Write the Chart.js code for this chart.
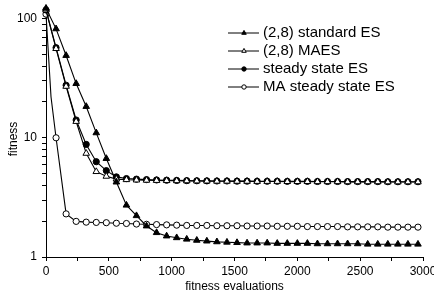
<!DOCTYPE html>
<html lang="en">
<head>
  <meta charset="UTF-8">
  <title>fitness vs fitness evaluations</title>
  <style>
    body {
      margin: 0;
      padding: 0;
      background: #fff;
      overflow: hidden;
    }
    .chart-box {
      width: 434px;
      height: 296px;
    }
  </style>
</head>
<body>
  <div class="chart-box">
    <canvas id="fitChart" width="434" height="296"></canvas>
  </div>

  <script src="https://cdn.jsdelivr.net/npm/chart.js"></script>
  <script>
    // x positions of the markers (fitness evaluations)
    const evals = [0, 80, 160, 240, 320, 400, 480, 560, 640, 720, 800, 880, 960, 1040, 1120, 1200, 1280, 1360, 1440,
      1520, 1600, 1680, 1760, 1840, 1920, 2000, 2080, 2160, 2240, 2320, 2400, 2480, 2560, 2640, 2720, 2800, 2880, 2960];

    const standardES = [122, 82, 49, 28.5, 18.3, 11.0, 6.7, 4.25, 2.72, 2.22, 1.82, 1.60, 1.50, 1.45, 1.41, 1.38, 1.36, 1.34, 1.33,
      1.32, 1.31, 1.31, 1.31, 1.30, 1.30, 1.30, 1.30, 1.29, 1.29, 1.29, 1.29, 1.29, 1.28, 1.28, 1.28, 1.28, 1.28, 1.28];
    const maES = [118, 56, 27, 13.7, 7.4, 5.2, 4.75, 4.5, 4.45, 4.42, 4.40, 4.38, 4.37, 4.36, 4.35, 4.34, 4.33, 4.32, 4.32,
      4.31, 4.31, 4.30, 4.30, 4.30, 4.29, 4.29, 4.29, 4.28, 4.28, 4.28, 4.27, 4.27, 4.27, 4.27, 4.26, 4.26, 4.26, 4.26];
    const steadyES = [118, 57, 27.6, 14.1, 8.8, 6.3, 5.3, 4.7, 4.55, 4.5, 4.46, 4.43, 4.41, 4.39, 4.37, 4.36, 4.35, 4.34, 4.34,
      4.33, 4.33, 4.32, 4.32, 4.32, 4.31, 4.31, 4.31, 4.30, 4.30, 4.30, 4.29, 4.29, 4.29, 4.29, 4.28, 4.28, 4.28, 4.28];
    const maSteadyES = [109, 10, 2.3, 1.99, 1.96, 1.95, 1.94, 1.92, 1.91, 1.89, 1.88, 1.87, 1.86, 1.85, 1.84, 1.84, 1.84, 1.83, 1.83,
      1.83, 1.82, 1.82, 1.82, 1.81, 1.81, 1.81, 1.80, 1.80, 1.80, 1.80, 1.79, 1.79, 1.79, 1.79, 1.78, 1.78, 1.78, 1.78];
    // the MA steady state curve bends between the first two markers: one unmarked point
    const maSteadyBendX = [40];
    const maSteadyBendY = [22];

    const seriesNames = ['(2,8) standard ES', '(2,8) MAES', 'steady state ES', 'MA steady state ES'];

    const xTicks = [0, 250, 500, 750, 1000, 1250, 1500, 1750, 2000, 2250, 2500, 2750, 3000];
    const xTickLabels = ['0', '', '500', '', '1000', '', '1500', '', '2000', '', '2500', '', '3000'];
    const yTicks = [1, 2, 3, 4, 5, 6, 7, 8, 9, 10, 20, 30, 40, 50, 60, 70, 80, 90, 100];
    const yTickLabels = ['1', '', '', '', '', '', '', '', '', '10', '', '', '', '', '', '', '', '', '100'];

    const FONT = '"Liberation Sans", Arial, sans-serif';

    function toPoints(xs, ys) {
      return xs.map((x, i) => ({ x: x, y: ys[i] }));
    }

    const maSteadyPoints = toPoints(evals, maSteadyES);
    maSteadyPoints.splice(1, 0, ...maSteadyBendX.map((x, i) => ({ x: x, y: maSteadyBendY[i], noMarker: true })));

    function series(label, data, style, fill, radius) {
      return {
        label: label,
        data: data,
        borderColor: '#000',
        borderWidth: 1.1,
        pointStyle: style,
        pointBackgroundColor: fill,
        pointBorderColor: '#000',
        pointBorderWidth: 1,
        pointRadius: ctx => (ctx.raw && ctx.raw.noMarker) ? 0 : radius,
        tension: 0,
        clip: false
      };
    }

    const datasets = [
      series(seriesNames[0], toPoints(evals, standardES), 'triangle', '#000', 3.8),
      series(seriesNames[1], toPoints(evals, maES), 'triangle', '#fff', 3.8),
      series(seriesNames[2], toPoints(evals, steadyES), 'circle', '#000', 3.1),
      series(seriesNames[3], maSteadyPoints, 'circle', '#fff', 3.1)
    ];

    // legend box and the rotated y title are drawn by hand
    const overlay = {
      id: 'overlay',
      afterDraw(chart) {
        const ctx = chart.ctx;
        ctx.save();
        ctx.fillStyle = '#000';
        ctx.font = '12px ' + FONT;
        ctx.textAlign = 'center';
        ctx.textBaseline = 'middle';
        ctx.translate(14, 139);
        ctx.rotate(-Math.PI / 2);
        ctx.fillText('fitness', 0, 0);
        ctx.restore();

        ctx.save();
        chart.data.datasets.forEach((ds, i) => {
          const y = 33 + i * 18;
          ctx.strokeStyle = '#000';
          ctx.lineWidth = 1;
          ctx.beginPath();
          ctx.moveTo(228, y);
          ctx.lineTo(259, y);
          ctx.stroke();
          ctx.fillStyle = ds.pointBackgroundColor;
          Chart.helpers.drawPoint(ctx, {
            pointStyle: ds.pointStyle,
            radius: ds.pointStyle === 'triangle' ? 2.6 : 2.2,
            borderWidth: 1,
            rotation: 0
          }, 244, y);
          ctx.fillStyle = '#000';
          ctx.font = '15px ' + FONT;
          ctx.textAlign = 'left';
          ctx.textBaseline = 'middle';
          ctx.fillText(ds.label, 263, y);
        });
        ctx.restore();
      }
    };

    Chart.defaults.color = '#000';
    Chart.defaults.font.family = FONT;
    Chart.defaults.font.size = 12;

    new Chart(document.getElementById('fitChart').getContext('2d'), {
      type: 'line',
      data: { datasets: datasets },
      options: {
        responsive: false,
        animation: false,
        layout: { padding: { left: 0, right: 11, top: 4, bottom: 0 } },
        plugins: {
          legend: { display: false },
          tooltip: { enabled: false }
        },
        scales: {
          x: {
            type: 'linear',
            min: 0,
            max: 3000,
            afterBuildTicks: s => { s.ticks = xTicks.map(v => ({ value: v })); },
            afterFit: s => { s.height = 39; s.paddingLeft = 0; s.paddingRight = 0; },
            ticks: {
              autoSkip: false,
              maxRotation: 0,
              padding: 3,
              callback: (v, i) => xTickLabels[i]
            },
            grid: { drawOnChartArea: false, drawTicks: true, tickLength: 4, color: '#000', lineWidth: 1 },
            border: { display: true, color: '#000', width: 1 },
            title: {
              display: true,
              text: 'fitness evaluations',
              padding: { top: 0, bottom: 2 },
              font: { size: 12 }
            }
          },
          y: {
            type: 'logarithmic',
            min: 1,
            max: 130,
            afterBuildTicks: s => { s.ticks = yTicks.map(v => ({ value: v })); },
            afterFit: s => { s.width = 46; s.paddingTop = 0; s.paddingBottom = 0; },
            ticks: {
              autoSkip: false,
              padding: 5,
              callback: (v, i) => yTickLabels[i]
            },
            grid: { drawOnChartArea: false, drawTicks: true, tickLength: 4, color: '#000', lineWidth: 1 },
            border: { display: true, color: '#000', width: 1 }
          }
        }
      },
      plugins: [overlay]
    });
  </script>
</body>
</html>
